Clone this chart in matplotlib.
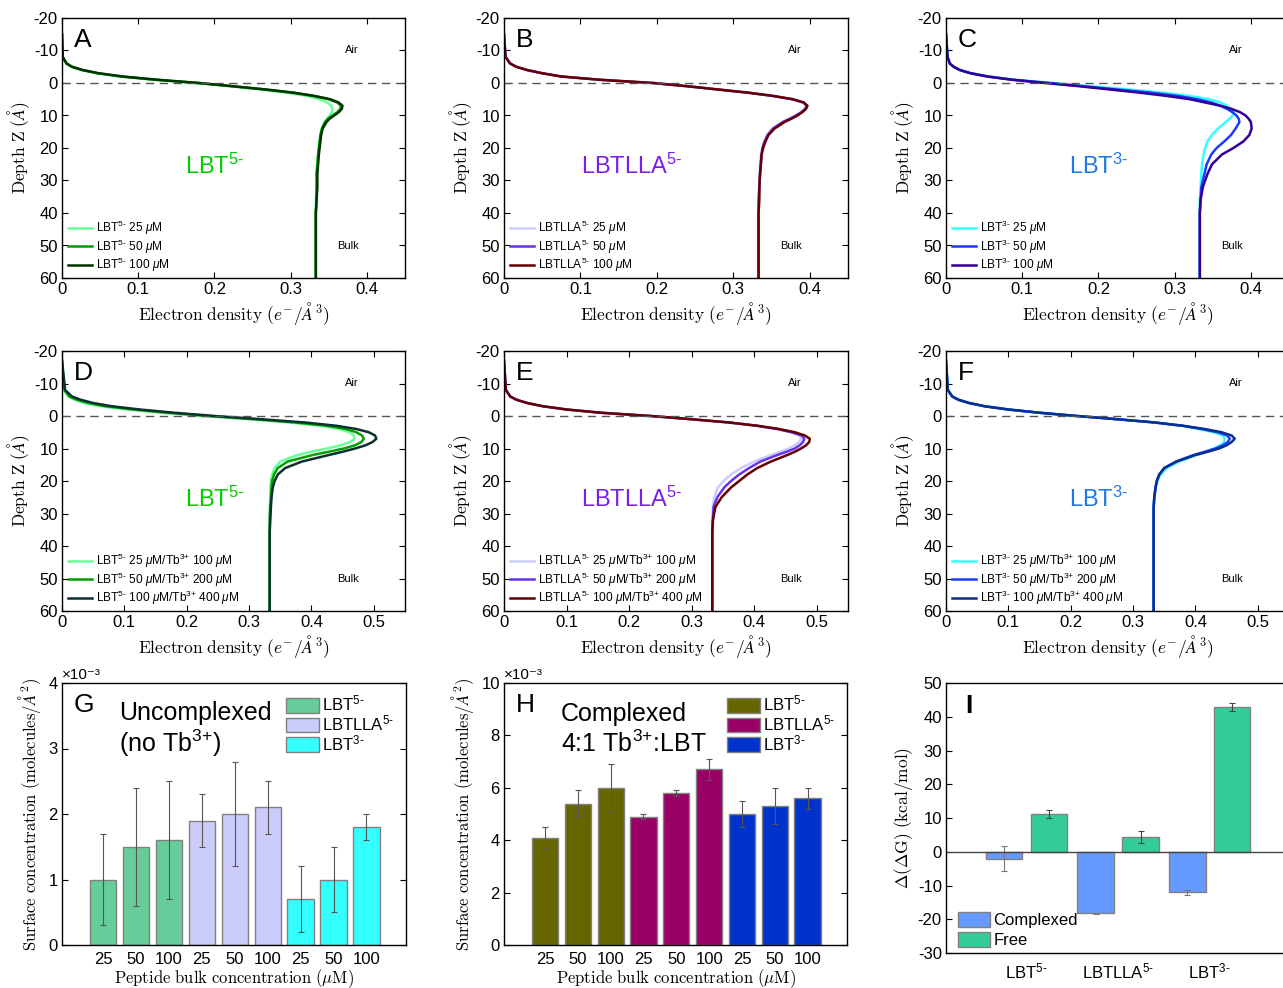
import numpy as np
import matplotlib
matplotlib.use('Agg')
import matplotlib.pyplot as plt
from matplotlib.ticker import FuncFormatter

plt.rcParams['font.family'] = ['Liberation Sans', 'DejaVu Sans']
plt.rcParams['mathtext.fontset'] = 'custom'
plt.rcParams['mathtext.rm'] = 'Liberation Sans'
plt.rcParams['mathtext.it'] = 'Liberation Sans:italic'
plt.rcParams['mathtext.bf'] = 'Liberation Sans:bold'
plt.rcParams['axes.unicode_minus'] = False

# depth grids (Angstrom)
depth_free = [-15, -8, -6, -5, -4, -3, -2, -1, 0, 1, 2, 3, 4, 5, 6, 7, 8, 9, 10, 11, 12,
              14, 16, 18, 20, 22, 25, 28, 32, 36, 40, 60]
depth_tb = [-17, -8, -6, -5, -4, -3, -2, -1, 0, 1, 2, 3, 4, 5, 6, 7, 8, 9, 10, 11, 12,
            14, 16, 18, 20, 22, 25, 28, 32, 36, 40, 60]

# A: LBT5- free
a_25 = [0, .001, .005, .012, .025, .045, .075, .12, .175, .22, .26, .295, .322, .338, .348, .353,
        .355, .354, .351, .348, .345, .341, .339, .338, .337, .336, .335, .334, .334, .333, .333, .333]
a_50 = [0, .001, .006, .013, .027, .047, .078, .123, .178, .223, .266, .303, .33, .35, .361, .366,
        .365, .361, .355, .349, .345, .341, .339, .338, .337, .336, .335, .334, .334, .334, .333, .333]
a_100 = [0, .001, .006, .013, .027, .048, .08, .125, .18, .225, .268, .305, .332, .352, .363, .368,
         .367, .363, .357, .351, .347, .342, .340, .339, .338, .337, .336, .335, .335, .334, .333, .333]
# B: LBTLLA5- free
b_25 = [0, .002, .008, .016, .03, .05, .075, .125, .195, .24, .28, .32, .352, .376, .391, .395,
        .393, .388, .381, .373, .364, .351, .344, .340, .338, .336, .335, .334, .334, .333, .333, .333]
b_50 = [0, .002, .008, .016, .03, .05, .075, .125, .195, .24, .28, .32, .352, .377, .392, .396,
        .394, .389, .382, .374, .365, .352, .345, .341, .338, .337, .336, .335, .334, .333, .333, .333]
b_100 = [0, .002, .008, .016, .03, .05, .075, .125, .195, .24, .28, .32, .353, .378, .392, .397,
         .395, .39, .384, .376, .367, .354, .346, .342, .339, .337, .336, .335, .334, .334, .333, .333]
# C: LBT3- free
c_25 = [0, .002, .005, .01, .018, .033, .056, .09, .14, .19, .24, .285, .32, .345, .36, .368,
        .374, .377, .376, .372, .367, .357, .349, .343, .340, .338, .336, .335, .334, .333, .333, .333]
c_50 = [0, .002, .005, .01, .018, .033, .055, .088, .135, .18, .225, .27, .305, .33, .348, .36,
        .369, .376, .381, .384, .385, .38, .374, .365, .355, .348, .342, .339, .335, .334, .333, .333]
c_100 = [0, .002, .005, .01, .018, .032, .054, .086, .13, .175, .215, .255, .29, .32, .34, .36,
         .375, .386, .393, .397, .4, .401, .398, .39, .377, .362, .349, .343, .337, .334, .333, .333]
# D: LBT5- with Tb3+
d_25 = [0, .003, .01, .02, .036, .062, .105, .16, .225, .3, .365, .415, .445, .461, .468, .469,
        .462, .447, .425, .399, .378, .35, .341, .337, .335, .334, .334, .333, .333, .333, .333, .333]
d_50 = [0, .004, .012, .024, .042, .07, .115, .17, .235, .31, .375, .425, .455, .472, .481, .484,
        .48, .47, .452, .428, .402, .362, .346, .34, .337, .336, .335, .334, .333, .333, .333, .333]
d_100 = [0, .005, .016, .03, .05, .08, .125, .18, .245, .32, .39, .44, .472, .492, .502, .504,
         .498, .487, .47, .45, .428, .385, .358, .346, .341, .338, .336, .335, .334, .333, .333, .333]
# E: LBTLLA5- with Tb3+
e_25 = [0, .003, .01, .02, .037, .062, .1, .155, .235, .3, .36, .403, .435, .458, .472, .475,
        .472, .465, .455, .442, .427, .4, .379, .363, .351, .342, .336, .334, .333, .333, .333, .333]
e_50 = [0, .003, .01, .02, .037, .062, .1, .155, .235, .3, .36, .404, .437, .46, .476, .48,
        .478, .473, .465, .452, .437, .41, .392, .376, .363, .352, .341, .335, .334, .333, .333, .333]
e_100 = [0, .003, .01, .02, .037, .062, .1, .155, .235, .3, .36, .405, .44, .465, .481, .489,
         .488, .483, .475, .465, .453, .427, .405, .389, .376, .363, .348, .338, .334, .333, .333, .333]
# F: LBT3- with Tb3+
f_25 = [0, .003, .01, .02, .037, .062, .1, .15, .21, .275, .335, .378, .405, .43, .444, .447,
        .446, .44, .43, .417, .402, .374, .354, .344, .339, .336, .334, .333, .333, .333, .333, .333]
f_50 = [0, .003, .01, .02, .037, .062, .1, .15, .21, .275, .335, .379, .41, .436, .451, .455,
        .452, .444, .432, .415, .397, .369, .35, .342, .338, .336, .334, .333, .333, .333, .333, .333]
f_100 = [0, .003, .01, .02, .037, .062, .1, .15, .21, .275, .335, .38, .415, .442, .458, .463,
         .458, .45, .438, .42, .4, .37, .35, .342, .338, .336, .334, .333, .333, .333, .333, .333]

# G / H surface concentrations (x1e-3 molecules/A^2)
conc_labels = ['25', '50', '100', '25', '50', '100', '25', '50', '100']
g_vals = [1.0, 1.5, 1.6, 1.9, 2.0, 2.1, 0.7, 1.0, 1.8]
g_err = [0.7, 0.9, 0.9, 0.4, 0.8, 0.4, 0.5, 0.5, 0.2]
h_vals = [4.1, 5.4, 6.0, 4.9, 5.8, 6.7, 5.0, 5.3, 5.6]
h_err = [0.4, 0.5, 0.9, 0.1, 0.1, 0.4, 0.5, 0.7, 0.4]

# I: delta delta G
lbt5 = r'LBT$^{5\text{-}}$'
lla5 = r'LBTLLA$^{5\text{-}}$'
lbt3 = r'LBT$^{3\text{-}}$'
peptides = [lbt5, lla5, lbt3]
ddg_complexed = [-2.0, -18.2, -12.0]
ddg_complexed_err = [3.6, 0.2, 0.7]
ddg_free = [11.2, 4.4, 42.8]
ddg_free_err = [1.2, 1.7, 1.2]

W, H = 1283, 988
fig = plt.figure(figsize=(W / 100, H / 100), dpi=100)


def px_axes(l, t, r, b):
    return fig.add_axes([l / W, 1 - b / H, (r - l) / W, (b - t) / H])


def style(ax):
    ax.tick_params(direction='in', top=True, right=True, length=4, width=0.8,
                   labelsize=12, pad=3)
    for s in ax.spines.values():
        s.set_linewidth(1.0)


xlab = r'$\mathrm{Electron\ density}\ (e^{-}/\AA^{3})$'
ylab = r'$\mathrm{Depth\ Z}\ (\AA)$'
fmt = FuncFormatter(lambda v, p: '%g' % round(v, 3))
mu = r'$\mu$M'
tb3 = r'Tb$^{3\text{+}}$'


def profile(ax, depth, curves, colors, labels, letter, name, name_color, name_x, xmax):
    for rho, c, lab in zip(curves, colors, labels):
        ax.plot(rho, depth, color=c, lw=1.8, label=lab)
    ax.axhline(0, color='#555555', lw=1, ls=(0, (6, 4)))
    ax.set_xlim(0, xmax)
    ax.set_ylim(60, -20)
    ax.set_yticks(np.arange(-20, 61, 10))
    ax.set_xticks(np.arange(0, xmax, 0.1))
    ax.xaxis.set_major_formatter(fmt)
    ax.set_xlabel(xlab, fontsize=12.5, labelpad=2, math_fontfamily='cm')
    ax.set_ylabel(ylab, fontsize=12.5, labelpad=1, math_fontfamily='cm')
    style(ax)
    ax.text(0.035, 0.915, letter, transform=ax.transAxes, fontsize=19, va='center')
    ax.text(0.845, 0.877, 'Air', transform=ax.transAxes, fontsize=8, ha='center', va='center')
    ax.text(0.835, 0.123, 'Bulk', transform=ax.transAxes, fontsize=8, ha='center', va='center')
    ax.text(name_x, 0.43, name, transform=ax.transAxes, fontsize=17,
            color=name_color, ha='center', va='center')
    ax.legend(loc='lower left', bbox_to_anchor=(0.0, -0.007), frameon=False, fontsize=8.6,
              handlelength=2.0, handletextpad=0.35, labelspacing=0.0, borderaxespad=0.3,
              borderpad=0.2)


cols = [(62, 405), (504, 848), (946, 1289)]
rows = [(18, 278), (351, 611)]

green = ['#66ff99', '#00a000', '#003300']
green_tb = ['#66ff99', '#00a000', '#0a3030']
purple = ['#ccccff', '#6633ee', '#660000']
blue = ['#33ffff', '#1a3cff', '#330099']
blue_tb = ['#33ffff', '#1a3cff', '#0a2f8f']
name_cols = ['#00cc00', '#7a1fe6', '#1f78e6']


def free_labels(p):
    return [f'{p} 25 {mu}', f'{p} 50 {mu}', f'{p} 100 {mu}']


def tb_labels(p):
    return [f'{p} 25 {mu}/{tb3} 100 {mu}', f'{p} 50 {mu}/{tb3} 200 {mu}',
            f'{p} 100 {mu}/{tb3} 400 {mu}']


panels = [
    (0, 0, depth_free, [a_25, a_50, a_100], green, free_labels(lbt5), 'A', lbt5, 0, 0.45),
    (0, 1, depth_free, [b_25, b_50, b_100], purple, free_labels(lla5), 'B', lla5, 1, 0.45),
    (0, 2, depth_free, [c_25, c_50, c_100], blue, free_labels(lbt3), 'C', lbt3, 2, 0.45),
    (1, 0, depth_tb, [d_25, d_50, d_100], green_tb, tb_labels(lbt5), 'D', lbt5, 0, 0.55),
    (1, 1, depth_tb, [e_25, e_50, e_100], purple, tb_labels(lla5), 'E', lla5, 1, 0.55),
    (1, 2, depth_tb, [f_25, f_50, f_100], blue_tb, tb_labels(lbt3), 'F', lbt3, 2, 0.55),
]
name_xs = [0.445, 0.37, 0.445]
for r, c, dep, curves, colors, labels, letter, name, nc, xmax in panels:
    t, b = rows[r]
    l, rr = cols[c]
    ax = px_axes(l, t, rr, b)
    profile(ax, dep, curves, colors, labels, letter, name, name_cols[nc], name_xs[nc], xmax)

# G and H bar charts
xpos = np.arange(1, 10)
ylab_s = r'$\mathrm{Surface\ concentration}\ (\mathrm{molecules}/\AA^{2})$'
xlab_s = r'$\mathrm{Peptide\ bulk\ concentration}\ (\mu\mathrm{M})$'


def conc_panel(ax, vals, errs, colors, ymax, letter, title_lines, title_ys, legend_names):
    bar_cols = [colors[i // 3] for i in range(9)]
    bars = ax.bar(xpos, vals, width=0.8, color=bar_cols, edgecolor='#808080', lw=1)
    ax.errorbar(xpos, vals, yerr=errs, fmt='none', ecolor='#555555', elinewidth=0.8,
                capsize=2.5, capthick=0.8)
    ax.set_xlim(-0.25, 10.2)
    ax.set_ylim(0, ymax)
    ax.set_xticks(xpos)
    ax.set_xticklabels(conc_labels)
    style(ax)
    ax.tick_params(axis='x', length=0, pad=5)
    ax.set_xlabel(xlab_s, fontsize=12, labelpad=0, math_fontfamily='cm')
    ax.set_ylabel(ylab_s, fontsize=12, labelpad=4, math_fontfamily='cm')
    ax.text(0.0, 1.005, '×10⁻³', transform=ax.transAxes, fontsize=11, va='bottom')
    ax.text(0.035, 0.915, letter, transform=ax.transAxes, fontsize=19, va='center')
    for line, yp in zip(title_lines, title_ys):
        ax.text(0.165, (945 - yp) / 262, line, transform=ax.transAxes, fontsize=18,
                va='center')
    handles = [bars[0], bars[3], bars[6]]
    ax.legend(handles, legend_names, loc='upper right', bbox_to_anchor=(1.0, 1.003),
              frameon=False, fontsize=12, handlelength=1.95, handleheight=1.0,
              handletextpad=0.2, labelspacing=0.0, borderaxespad=0.3)


axg = px_axes(62, 683, 406, 945)
conc_panel(axg, g_vals, g_err, ['#66cc99', '#ccccfa', '#33ffff'], 4, 'G',
           ['Uncomplexed', '(no ' + tb3 + ')'], [713, 743], [lbt5, lla5, lbt3])
axg.set_yticks([0, 1, 2, 3, 4])
axh = px_axes(504, 683, 847, 945)
conc_panel(axh, h_vals, h_err, ['#666600', '#990066', '#0033cc'], 10, 'H',
           ['Complexed', '4:1 ' + tb3 + ':LBT'], [714, 744], [lbt5, lla5, lbt3])
axh.set_yticks([0, 2, 4, 6, 8, 10])

# I: delta delta G
axi = px_axes(946, 683, 1292, 953)
gx = np.arange(1, 4)
off = 0.245
axi.bar(gx - off, ddg_complexed, width=0.4, color='#6699ff', edgecolor='#808080', lw=1,
        label='Complexed')
axi.bar(gx + off, ddg_free, width=0.4, color='#33cc99', edgecolor='#808080', lw=1,
        label='Free')
axi.errorbar(gx - off, ddg_complexed, yerr=ddg_complexed_err, fmt='none', ecolor='#777777',
             elinewidth=0.8, capsize=2.5, capthick=0.8)
axi.errorbar(gx + off, ddg_free, yerr=ddg_free_err, fmt='none', ecolor='#444444',
             elinewidth=0.8, capsize=2.5, capthick=0.8)
axi.axhline(0, color='#444444', lw=1)
axi.set_xlim(0.12, 3.9)
axi.set_ylim(-30, 50)
axi.set_yticks(np.arange(-30, 51, 10))
axi.set_xticks(gx)
axi.set_xticklabels(peptides)
style(axi)
axi.tick_params(axis='x', length=0, pad=6)
axi.tick_params(axis='y', right=False)
axi.set_ylabel(r'$\Delta(\Delta\mathrm{G})\ (\mathrm{kcal/mol})$', fontsize=12.5, labelpad=2,
               math_fontfamily='cm')
axi.text(0.055, 0.915, 'I', transform=axi.transAxes, fontsize=19, va='center',
         fontweight='bold')
axi.legend(loc='lower left', bbox_to_anchor=(0.0, -0.025), frameon=False, fontsize=12,
           handlelength=1.95, handleheight=1.0, handletextpad=0.2, labelspacing=0.25,
           borderaxespad=0.3)

fig.savefig('out.png', dpi=100)
